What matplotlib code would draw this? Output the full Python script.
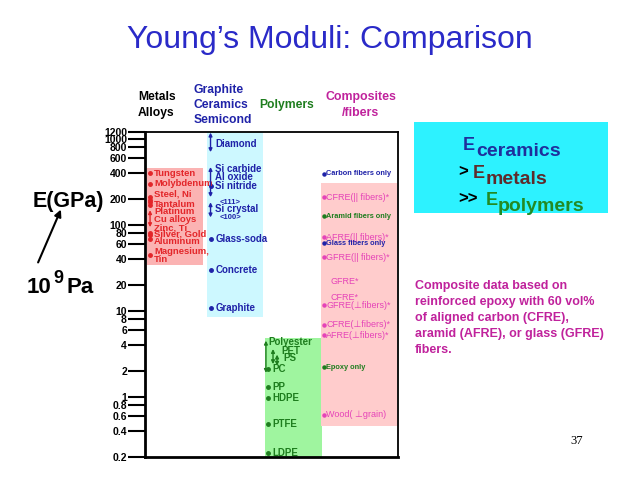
import matplotlib.pyplot as plt

plt.rcParams['font.family'] = ['Liberation Sans', 'DejaVu Sans']
plt.rcParams['font.weight'] = 'bold'

# y axis (E in GPa, log scale)
tick_vals = [0.2, 0.4, 0.6, 0.8, 1, 2, 4, 6, 8, 10, 20, 40, 60, 80, 100,
             200, 400, 600, 800, 1000, 1200]
tick_labels = [str(v) for v in tick_vals]

# metals / alloys
metal_labels = ["Tungsten", "Molybdenum", "Steel, Ni", "Tantalum", "Platinum",
                "Cu alloys", "Zinc, Ti", "Silver, Gold", "Aluminum", "Magnesium,\nTin"]
metal_label_E = [400, 300, 227, 174, 144, 116, 91, 78, 64, 44]
metal_dots_E = [400, 300, 210, 195, 185, 170, 80, 76, 69, 45]
metal_range_E = [94, 148]

# graphite / ceramics / semiconductors
ceramic_labels = ["Diamond", "Si carbide", "Al oxide", "Si nitride", "Si crystal",
                  "Glass-soda", "Concrete", "Graphite"]
ceramic_label_E = [870, 450, 357, 280, 152, 68, 30, 10.7]
ceramic_dots_E = [280, 68, 30, 10.7]
ceramic_ranges = [(700, 1180), (210, 470), (122, 183)]
si_orient = ["<111>", "<100>"]
si_orient_E = [183, 122]

# polymers
polymer_labels = ["Polyester", "PET", "PS", "PC", "PP", "HDPE", "PTFE", "LDPE"]
polymer_label_E = [4.4, 3.4, 2.8, 2.1, 1.3, 0.98, 0.49, 0.22]
polymer_dots_E = [2.1, 1.3, 0.98, 0.49, 0.22]
polymer_ranges = [(1.9, 4.5), (2.4, 3.6), (2.3, 3.1)]

# composites / fibers
composite_labels = ["Carbon fibers only", "CFRE(|| fibers)*", "Aramid fibers only",
                    "AFRE(|| fibers)*", "Glass fibers only", "GFRE(|| fibers)*",
                    "GFRE*", "CFRE*", "GFRE(\u22a5fibers)*", "CFRE(\u22a5fibers)*",
                    "AFRE(\u22a5fibers)*", "Epoxy only", "Wood( \u22a5grain)"]
composite_E = [390, 209, 126, 72, 61, 42, 22, 14.3, 11.6, 6.9, 5.2, 2.2, 0.62]
composite_kind = ["carbon", "fre", "aramid", "fre", "glass", "fre",
                  "note", "note", "fre", "fre", "fre", "epoxy", "fre"]

# box extents (E range covered by each family)
metal_box = [33.8, 456]
ceramic_box = [8.4, 1200]
polymer_box = [0.2, 4.9]
composite_box = [0.46, 305]

RED = '#e3262a'
BLUE = '#1f22a8'
GREEN = '#1e7d1e'
MAG = '#e543b8'
MAG_DARK = '#c0229c'

W, H = 638, 479


def fx(px):
    return px / W


def fy(py):
    return 1 - py / H


fig = plt.figure(figsize=(W / 100, H / 100), dpi=100)
ax = fig.add_axes([fx(145), fy(457), 253 / W, 325 / H])
ax.set_yscale('log')
ax.set_ylim(0.2, 1200)
ax.set_xlim(0, 100)
ax.set_yticks(tick_vals)
ax.set_yticklabels(tick_labels)
ax.minorticks_off()
ax.set_xticks([])
ax.tick_params(axis='y', direction='out', length=12, width=1.5, labelsize=7.5, pad=1)
for s in ax.spines.values():
    s.set_linewidth(1.3)
ax.spines['left'].set_linewidth(2)
ax.spines['bottom'].set_linewidth(2)

# coloured bands
ax.fill_between([0.8, 23], *metal_box, color='#fbb3b3', lw=0, zorder=0)
ax.fill_between([24.5, 46.6], *ceramic_box, color='#cdf8ff', lw=0, zorder=0)
ax.fill_between([47.4, 70], *polymer_box, color='#9ff59f', lw=0, zorder=0)
ax.fill_between([69.6, 99.6], *composite_box, color='#ffcccc', lw=0, zorder=0)


def vrange(x, lo, hi, color):
    ax.annotate('', xy=(x, lo), xytext=(x, hi),
                arrowprops=dict(arrowstyle='<|-|>', color=color, lw=1,
                                mutation_scale=5, shrinkA=0, shrinkB=0))


# metals
ax.plot([2.0] * len(metal_dots_E), metal_dots_E, 'o', ms=2.5, color=RED)
vrange(2.0, metal_range_E[0], metal_range_E[1], RED)
for lab, e in zip(metal_labels, metal_label_E):
    ax.text(3.6, e, lab, color=RED, fontsize=6.8, va='center', linespacing=0.85)

# ceramics
ax.plot([25.9] * len(ceramic_dots_E), ceramic_dots_E, 'o', ms=2.5, color=BLUE)
for lo, hi in ceramic_ranges:
    vrange(25.9, lo, hi, BLUE)
for lab, e in zip(ceramic_labels, ceramic_label_E):
    ax.text(27.8, e, lab, color=BLUE, fontsize=7, va='center')
for lab, e in zip(si_orient, si_orient_E):
    ax.text(29.5, e, lab, color=BLUE, fontsize=5.5, va='center')

# polymers
ax.plot([48.6] * len(polymer_dots_E), polymer_dots_E, 'o', ms=2.5, color=GREEN)
for (lo, hi), x in zip(polymer_ranges, [47.8, 50.6, 52.2]):
    vrange(x, lo, hi, GREEN)
label_x = [48.6, 53.8, 54.6, 50.2, 50.2, 50.2, 50.2, 50.2]
for lab, e, x in zip(polymer_labels, polymer_label_E, label_x):
    ax.text(x, e, lab, color=GREEN, fontsize=7, va='center')

# composites
kind_color = {"carbon": BLUE, "glass": BLUE, "aramid": GREEN, "epoxy": GREEN,
              "fre": MAG, "note": MAG}
for lab, e, k in zip(composite_labels, composite_E, composite_kind):
    c = kind_color[k]
    if k == "note":
        ax.text(73.5, e, lab, color=c, fontsize=6.5, weight='normal', va='center')
        continue
    ax.plot([70.6], [e], 'o', ms=2.2, color=c)
    if k == "fre":
        ax.text(71.6, e, lab, color=c, fontsize=6.5, weight='normal', va='center')
    else:
        ax.text(71.6, e, lab, color=c, fontsize=5.3, va='center')

# headers
fig.text(fx(330), fy(40), "Young\u2019s Moduli: Comparison", color='#2a2ac8',
         fontsize=23, weight='normal', ha='center', va='center')
fig.text(fx(138), fy(105), "Metals\nAlloys", fontsize=8.7, va='center', linespacing=1.35)
fig.text(fx(194), fy(105), "Graphite\nCeramics\nSemicond", color=BLUE, fontsize=8.7,
         va='center', linespacing=1.35)
fig.text(fx(259), fy(105), "Polymers", color=GREEN, fontsize=8.7, va='center')
fig.text(fx(361), fy(105), "Composites\n/fibers", color=MAG_DARK, fontsize=8.9,
         ha='center', va='center', linespacing=1.35)

# E(GPa) and 10^9 Pa
fig.text(fx(33), fy(201), "E(GPa)", fontsize=15.5, va='center')
fig.text(fx(27), fy(293), "10", fontsize=16, va='baseline')
fig.text(fx(53), fy(283), "9", fontsize=13, va='baseline')
fig.text(fx(67), fy(293), "Pa", fontsize=16, va='baseline')
ax.annotate('', xy=(fx(62), fy(207)), xytext=(fx(37), fy(265)),
            xycoords='figure fraction', textcoords='figure fraction',
            annotation_clip=False,
            arrowprops=dict(arrowstyle='-|>', color='black', lw=1.5, mutation_scale=10))

# comparison box
fig.patches.append(plt.Rectangle((fx(414), fy(213)), (608 - 414) / W, (213 - 122) / H,
                                 transform=fig.transFigure, facecolor='#2df2ff',
                                 edgecolor='none', zorder=-1))
fig.text(fx(463), fy(150), "E", fontsize=13, color='#1f2f9c', va='baseline')
fig.text(fx(476), fy(156), "ceramics", fontsize=14, color='#1f2f9c', va='baseline')
fig.text(fx(458), fy(176), ">", fontsize=12, color='black', va='baseline')
fig.text(fx(473), fy(178), "E", fontsize=13, color='#5e2b2b', va='baseline')
fig.text(fx(486), fy(184), "metals", fontsize=14, color='#5e2b2b', va='baseline')
fig.text(fx(458), fy(203), ">>", fontsize=12, color='black', va='baseline')
fig.text(fx(486), fy(205), "E", fontsize=13, color='#238a23', va='baseline')
fig.text(fx(498), fy(211), "polymers", fontsize=14, color='#238a23', va='baseline')

fig.text(fx(415), fy(280),
         "Composite data based on\nreinforced epoxy with 60 vol%\n"
         "of aligned carbon (CFRE),\naramid (AFRE), or glass (GFRE)\nfibers.",
         color=MAG_DARK, fontsize=9, va='top', linespacing=1.45)

fig.text(fx(570), fy(441), "37", family='Liberation Serif', weight='normal',
         fontsize=9, va='center')

fig.savefig('out.png', dpi=100)
